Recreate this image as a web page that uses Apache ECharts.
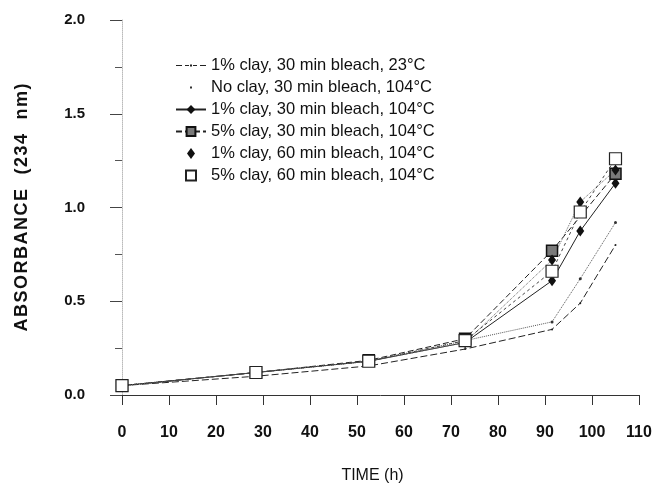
<!DOCTYPE html>
<html>
<head>
<meta charset="utf-8">
<script src="https://cdn.jsdelivr.net/npm/echarts@6/dist/echarts.min.js"></script>
<style>
html, body { margin: 0; padding: 0; background: #fff; }
#chart { width: 653px; height: 484px; }
</style>
</head>
<body>
<div id="chart"></div>
<script>
// sampling times (h)
var times = [0, 28.5, 52.5, 73, 91.5, 97.5, 105];

// absorbance at 234 nm, one array per treatment
var clay1_30_23 = [0.05, 0.10, 0.155, 0.245, 0.35, 0.49, 0.80];
var noClay_30_104 = [0.05, 0.12, 0.18, 0.29, 0.39, 0.62, 0.92];
var clay1_30_104 = [0.05, 0.12, 0.18, 0.28, 0.61, 0.875, 1.13];
var clay5_30_104 = [0.05, 0.12, 0.185, 0.30, 0.77, null, 1.18];
var clay1_60_104 = [0.05, 0.12, 0.18, 0.28, 0.72, 1.03, 1.20];
var clay5_60_104 = [0.05, 0.12, 0.18, 0.29, 0.66, 0.976, 1.26];

var names = [
    '1% clay, 30 min bleach, 23°C',
    'No clay, 30 min bleach, 104°C',
    '1% clay, 30 min bleach, 104°C',
    '5% clay, 30 min bleach, 104°C',
    '1% clay, 60 min bleach, 104°C',
    '5% clay, 60 min bleach, 104°C'
];

function pairs(vals) {
    var out = [];
    for (var i = 0; i < times.length; i++) {
        if (vals[i] !== null) out.push([times[i], vals[i]]);
    }
    return out;
}

// spaced out axis title, like the typeset original
var yTitle = 'ABSORBANCE  (234  nm)'.split('').join('\u200A');

// legend icons, box 30x11 (the zero length moves pin the box)
var box = 'M0,0L0,0M30,11L30,11';
var iconDashDot = 'path://' + box + 'M0,5h6v1h-6zM9,5h4v1h-4zM14,4.5h2v2h-2zM17,5h4v1h-4zM24,5h6v1h-6z';
var iconDot = 'path://' + box + 'M14,4.5h2v2h-2z';
var iconDiamond = 'path://' + box + 'M11,5.5L15,0L19,5.5L15,11Z';
var iconSquare = 'path://' + box + 'M10,0.5h10v10h-10z';

var chart = echarts.init(document.getElementById('chart'));
var option = {
    animation: false,
    textStyle: { fontFamily: 'Liberation Sans, Arial, sans-serif', color: '#111' },
    grid: { left: 122, right: 14, top: 20, bottom: 89, outerBoundsMode: 'none' },
    legend: {
        orient: 'vertical',
        left: 170,
        top: 52,
        itemGap: 5,
        itemWidth: 30,
        itemHeight: 11,
        textStyle: { fontSize: 16.5, color: '#111' },
        data: [
            { name: names[0], icon: iconDashDot },
            { name: names[1], icon: iconDot },
            { name: names[2] },
            { name: names[3] },
            { name: names[4], icon: iconDiamond },
            { name: names[5], icon: iconSquare }
        ]
    },
    xAxis: {
        type: 'value',
        min: 0,
        max: 110,
        interval: 10,
        name: 'TIME (h)',
        nameLocation: 'middle',
        nameGap: 73,
        nameTextStyle: { fontSize: 16, color: '#111', padding: [0, 16, 0, 0] },
        splitLine: { show: false },
        axisLine: { lineStyle: { color: '#333', width: 1 } },
        axisTick: { length: 10, lineStyle: { color: '#333' } },
        axisLabel: { margin: 30, fontSize: 16, fontWeight: 'bold', color: '#111' }
    },
    yAxis: {
        type: 'value',
        min: 0,
        max: 2,
        interval: 0.5,
        name: yTitle,
        nameLocation: 'middle',
        nameGap: 91,
        nameTextStyle: { fontSize: 18, fontWeight: 'bold', color: '#111' },
        splitLine: { show: false },
        axisLine: { show: true, lineStyle: { color: '#bbb', type: 'dotted', width: 1 } },
        axisTick: { length: 12, lineStyle: { color: '#444' } },
        minorTick: { show: true, splitNumber: 2, length: 7, lineStyle: { color: '#555' } },
        axisLabel: {
            margin: 37,
            fontSize: 15,
            fontWeight: 'bold',
            color: '#111',
            formatter: function (v) { return v.toFixed(1); }
        }
    },
    series: [
        {
            name: names[0],
            type: 'line',
            data: pairs(clay1_30_23),
            symbol: 'circle',
            symbolSize: 2,
            itemStyle: { color: '#222' },
            lineStyle: { color: '#222', width: 1, type: [7, 3] }
        },
        {
            name: names[1],
            type: 'line',
            data: pairs(noClay_30_104),
            symbol: 'circle',
            symbolSize: 3,
            itemStyle: { color: '#333' },
            lineStyle: { color: '#555', width: 1, type: 'dotted' }
        },
        {
            name: names[2],
            type: 'line',
            data: pairs(clay1_30_104),
            symbol: 'diamond',
            symbolSize: [8, 11],
            itemStyle: { color: '#111' },
            lineStyle: { color: '#222', width: 1 }
        },
        {
            name: names[3],
            type: 'line',
            data: pairs(clay5_30_104),
            connectNulls: true,
            symbol: 'rect',
            symbolSize: 11,
            itemStyle: { color: '#7a7a7a', borderColor: '#111', borderWidth: 1.5 },
            lineStyle: { color: '#222', width: 1, type: [6, 3] }
        },
        {
            name: names[4],
            type: 'line',
            data: pairs(clay1_60_104),
            symbol: 'diamond',
            symbolSize: [8, 11],
            itemStyle: { color: '#111' },
            lineStyle: { color: '#666', width: 1, type: 'dotted' }
        },
        {
            name: names[5],
            type: 'line',
            data: pairs(clay5_60_104),
            symbol: 'rect',
            symbolSize: 12,
            itemStyle: { color: '#fff', borderColor: '#222', borderWidth: 1.2 },
            lineStyle: { color: '#444', width: 1, type: [3, 3] }
        }
    ]
};
chart.setOption(option);
</script>
</body>
</html>
